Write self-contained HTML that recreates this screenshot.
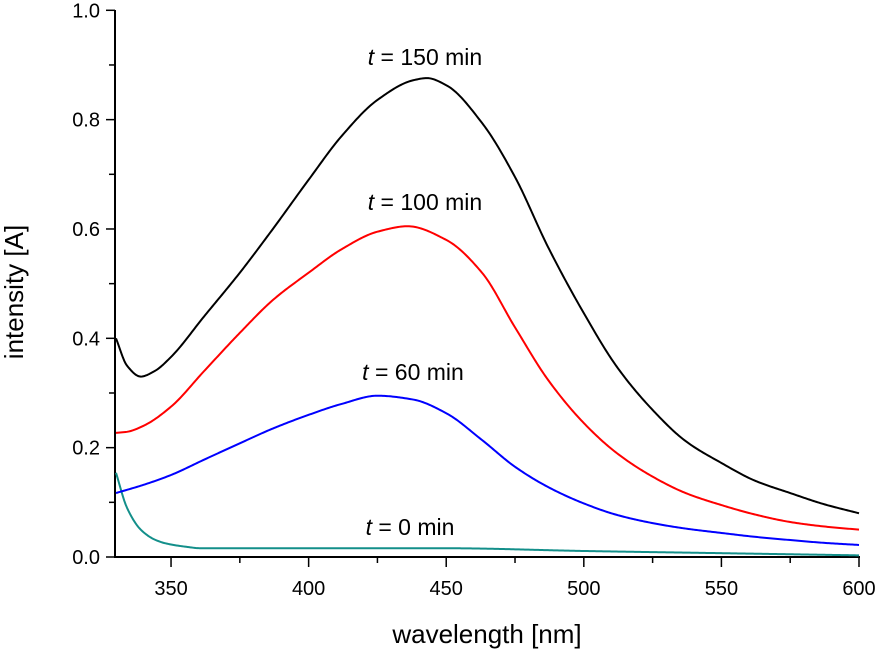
<!DOCTYPE html>
<html><head><meta charset="utf-8">
<style>
html,body{margin:0;padding:0;background:#fff;}
svg{display:block;font-family:"Liberation Sans",sans-serif;}
</style></head>
<body>
<svg id="chart" width="878" height="649" viewBox="0 0 878 649"></svg>
<script>
const wl = [330,334,339,344,350,362,375,387,400,412,425,438,443,450,463,475,487,500,512,525,537,550,562,575,587,600];
const t150 = [0.40,0.35,0.33,0.34,0.366,0.44,0.52,0.60,0.69,0.77,0.836,0.872,0.876,0.863,0.794,0.695,0.567,0.446,0.348,0.269,0.212,0.172,0.14,0.117,0.097,0.08];
const wlRed = [330,334,340,350,362,375,387,400,412,425,436,450,463,475,487,500,512,525,537,550,562,575,587,600];
const t100 = [0.227,0.229,0.24,0.275,0.34,0.41,0.47,0.52,0.563,0.595,0.605,0.58,0.52,0.42,0.324,0.245,0.19,0.147,0.117,0.095,0.078,0.064,0.056,0.05];
const wlBlue = [330,340,350,362,375,387,400,412,425,438,450,463,475,487,500,512,525,537,550,562,575,587,600];
const t60 = [0.117,0.132,0.15,0.178,0.208,0.235,0.26,0.28,0.295,0.288,0.263,0.214,0.165,0.128,0.098,0.077,0.062,0.052,0.044,0.037,0.031,0.026,0.022];
const wlTeal = [330,334,339,344,348,355,361,400,450,500,550,600];
const t0 = [0.154,0.09,0.05,0.032,0.025,0.019,0.016,0.016,0.016,0.011,0.007,0.003];
const xTicks = [350,400,450,500,550,600];
const yTicks = [0.0,0.2,0.4,0.6,0.8,1.0];

const svg = document.getElementById('chart');
const NS = 'http://www.w3.org/2000/svg';
const X = v => 116 + (v-330)*(859-116)/270;
const Y = v => 557 - v*546.7;
function mk(tag, attrs, parent){
  const e = document.createElementNS(NS, tag);
  for (const k in attrs) e.setAttribute(k, attrs[k]);
  (parent||svg).appendChild(e);
  return e;
}
// monotone cubic (Fritsch-Carlson) interpolation, sampled densely
function smooth(xs, ys){
  const n = xs.length, d = [], m = [];
  for (let i=0;i<n-1;i++) d.push((ys[i+1]-ys[i])/(xs[i+1]-xs[i]));
  m[0]=d[0]; m[n-1]=d[n-2];
  for (let i=1;i<n-1;i++){
    if (d[i-1]*d[i]<=0) m[i]=0;
    else {
      const h0=xs[i]-xs[i-1], h1=xs[i+1]-xs[i];
      const w1=2*h1+h0, w2=h1+2*h0;
      m[i]=(w1+w2)/(w1/d[i-1]+w2/d[i]);
    }
  }
  let path = 'M'+X(xs[0]).toFixed(2)+','+Y(ys[0]).toFixed(2);
  for (let i=0;i<n-1;i++){
    const h=xs[i+1]-xs[i];
    const steps=Math.max(4,Math.ceil(h*2));
    for (let s=1;s<=steps;s++){
      const t=s/steps, t2=t*t, t3=t2*t;
      const v=(2*t3-3*t2+1)*ys[i]+(t3-2*t2+t)*h*m[i]+(-2*t3+3*t2)*ys[i+1]+(t3-t2)*h*m[i+1];
      path += ' L'+X(xs[i]+t*h).toFixed(2)+','+Y(v).toFixed(2);
    }
  }
  return path;
}
let e = mk('line',{x1:115,y1:10,x2:115,y2:558,stroke:'#000','stroke-width':2});


e = mk('line',{x1:114,y1:557,x2:860,y2:557,stroke:'#000','stroke-width':2});


for (let v=0; v<=1.001; v+=0.1){
  const major = Math.round(v*10)%2===0;
  e = mk('line',{x1:115-(major?9:6),y1:Y(v),x2:115,y2:Y(v),stroke:'#000','stroke-width':1.5});
  
  
}
yTicks.forEach(v=>{
  e = mk('text',{x:100,y:Y(v)+7,'text-anchor':'end','font-size':20});
  e.textContent = v.toFixed(1);
  
  
});
for (let v=350; v<=600; v+=25){
  const major = v%50===0;
  e = mk('line',{x1:X(v),y1:557,x2:X(v),y2:557+(major?10:6),stroke:'#000','stroke-width':1.5});
  
  
}
xTicks.forEach(v=>{
  e = mk('text',{x:X(v),y:595,'text-anchor':'middle','font-size':20});
  e.textContent = v;
  
  
});
e = mk('text',{x:487,y:643,'text-anchor':'middle','font-size':26});
e.textContent = 'wavelength [nm]';


e = mk('text',{x:0,y:0,'text-anchor':'middle','font-size':26,transform:'translate(23,292) rotate(-90)'});
e.textContent = 'intensity [A]';


const series = [[wlTeal,t0,'#138f8a','series-t0'],[wlBlue,t60,'#0000ff','series-t60'],[wlRed,t100,'#ff0000','series-t100'],[wl,t150,'#000000','series-t150']];
series.forEach(s=>{
  e = mk('path',{d:smooth(s[0],s[1]),fill:'none',stroke:s[2],'stroke-width':2,'stroke-linejoin':'round'});
  
  
});
const labels = [[425,65,'150','label-t150'],[425,210,'100','label-t100'],[413,380,'60','label-t60'],[410,535,'0','label-t0']];
labels.forEach(l=>{
  e = mk('text',{x:l[0],y:l[1],'text-anchor':'middle','font-size':23});
  e.innerHTML = '<tspan font-style="italic">t</tspan> = '+l[2]+' min';
  
  
});
</script>
</body></html>
